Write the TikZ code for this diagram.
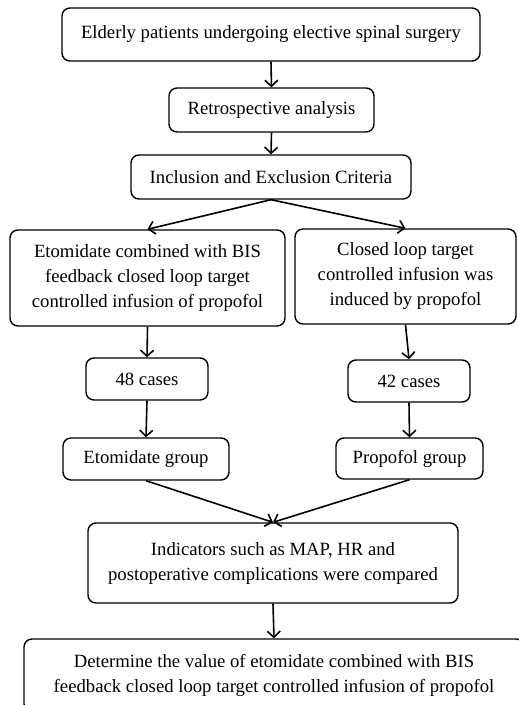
\documentclass[tikz,border=0pt]{standalone}
\usepackage{fontspec}
\setmainfont{Liberation Serif}
\usetikzlibrary{arrows.meta}
\tikzset{b/.style = {draw, line width=1.4pt, rounded corners=8pt, align=center, inner sep=0pt,
        font=\fontsize{18.7}{25}\selectfont},
    e/.style = {line width=1.6pt, -{Straight Barb[length=6pt, width=13pt, line width=1.6pt]}}}

\begin{document}
\begin{tikzpicture}[x=1pt, y=-1pt]
        \clip (0,0) rectangle (519,705);
        \node[b, minimum width=418pt, minimum height=53pt] (elder) at (271,34.5) {Elderly patients undergoing elective spinal surgery};
        \node[b, minimum width=205pt, minimum height=44pt] (retro) at (271.5,110) {Retrospective analysis};
        \node[b, minimum width=280pt, minimum height=44pt] (crit) at (271,177) {Inclusion and Exclusion Criteria};

        \node[b, minimum width=275pt, minimum height=96pt] (eto) at (147.5,278) {Etomidate combined with BIS\\feedback closed loop target\\controlled infusion of propofol};
        \node[b, minimum width=221pt, minimum height=95pt] (prop) at (405.5,276.5) {Closed loop target\\controlled infusion was\\induced by propofol};

        \foreach \n/\x/\y/\t in {n48/147/379/48, n42/409/381/42}
            \node[b, minimum width=122pt, minimum height=42pt] (\n) at (\x,\y) {\t{} cases};
        \node[b, minimum width=166pt, minimum height=42pt] (etog) at (146,459) {Etomidate group};
        \node[b, minimum width=147pt, minimum height=41pt] (propg) at (409.5,458.5) {Propofol group};

        \node[b, minimum width=370pt, minimum height=80pt] (ind) at (273,563) {Indicators such as MAP, HR and\\postoperative complications were compared};
        \node[b, minimum width=500pt, minimum height=73pt] (det) at (274,675.5) {Determine the value of etomidate combined with BIS\\feedback closed loop target controlled infusion of propofol};

        \foreach \a/\c in {elder/retro, retro/crit, crit/eto, crit/prop, eto/n48, prop/n42,
            n48/etog, n42/propg, etog/ind, propg/ind, ind/det}
            \draw[e] (\a.south) -- (\c.north);
    \end{tikzpicture}
\end{document}
